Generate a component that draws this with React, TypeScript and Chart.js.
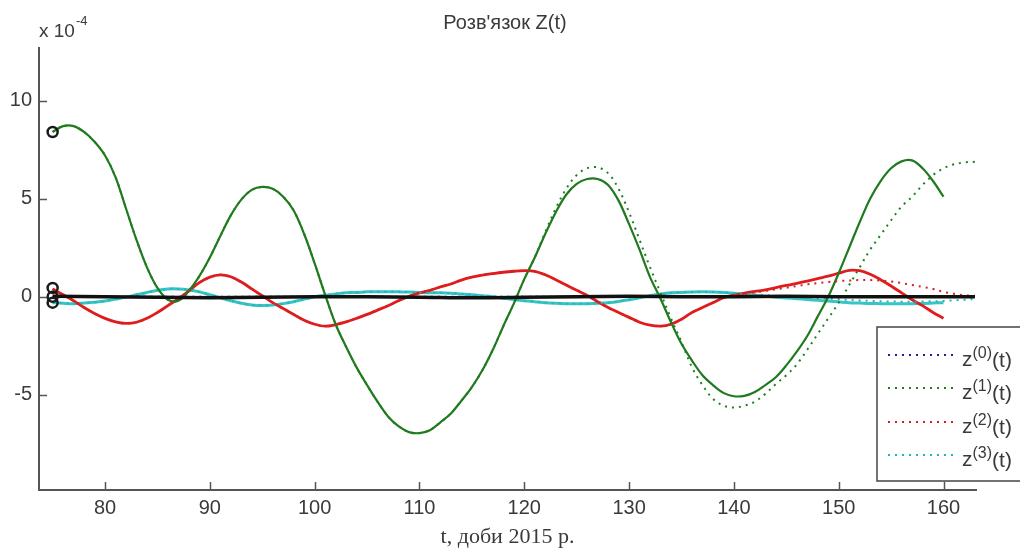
import React, { useEffect, useRef } from 'react';
import { Chart, registerables } from 'chart.js';

Chart.register(...registerables);

// ---------- data ----------
const DAYS = [
  75, 76, 77, 78, 79, 80, 81, 82, 83, 84,
  85, 86, 87, 88, 89, 90, 91, 92, 93, 94,
  95, 96, 97, 98, 99, 100, 101, 102, 103, 104,
  105, 106, 107, 108, 109, 110, 111, 112, 113, 114,
  115, 116, 117, 118, 119, 120, 121, 122, 123, 124,
  125, 126, 127, 128, 129, 130, 131, 132, 133, 134,
  135, 136, 137, 138, 139, 140, 141, 142, 143, 144,
  145, 146, 147, 148, 149, 150, 151, 152, 153, 154,
  155, 156, 157, 158, 159, 160,
];
const DAYS_EXTRA = [161, 162, 163];

// solution z1 (green, solid)
const Z1_SOLID = [
  8.4, 8.7, 8.7, 8.4, 7.9, 7.2, 6.1, 4.5, 2.9, 1.5,
  0.45, -0.15, -0.2, 0.3, 1.05, 2.0, 3.1, 4.15, 4.95, 5.45,
  5.6, 5.5, 5.1, 4.4, 3.2, 1.7, 0.1, -1.4, -2.55, -3.6,
  -4.5, -5.35, -6.1, -6.6, -6.9, -6.95, -6.8, -6.4, -5.95, -5.3,
  -4.6, -3.75, -2.7, -1.5, -0.35, 0.9, 2.0, 3.2, 4.3, 5.2,
  5.75, 6.0, 6.0, 5.7, 4.9, 3.7, 2.4, 1.0, -0.1, -1.3,
  -2.4, -3.25, -4.0, -4.5, -4.9, -5.07, -5.05, -4.85, -4.5, -4.1,
  -3.5, -2.8, -2.0, -1.0, 0.0, 1.2, 2.5, 3.8, 5.0, 5.9,
  6.55, 6.9, 6.95, 6.55, 5.9, 5.1,
];
// approximation z(1) (green, dotted) from day 121 to 163 (before that it equals the solution)
const Z1_DOTTED_TAIL = [
  2.0, 3.3, 4.5, 5.5,
  6.2, 6.55, 6.6, 6.3, 5.5, 4.3, 2.9, 1.5, 0.2, -1.1,
  -2.3, -3.6, -4.5, -5.2, -5.55, -5.65, -5.55, -5.35, -4.95, -4.45,
  -4.0, -3.45, -2.7, -1.9, -1.1, -0.3, 0.6, 1.5, 2.4, 3.15,
  3.9, 4.6, 5.1, 5.7, 6.2, 6.55, 6.75, 6.85, 6.88,
];

// solution z2 (red, solid)
const Z2_SOLID = [
  0.4, 0.1, -0.2, -0.55, -0.85, -1.1, -1.28, -1.36, -1.3, -1.1,
  -0.8, -0.45, -0.1, 0.3, 0.72, 1.0, 1.12, 1.02, 0.75, 0.4,
  0.05, -0.3, -0.6, -0.9, -1.2, -1.4, -1.5, -1.42, -1.28, -1.1,
  -0.9, -0.68, -0.46, -0.2, 0.02, 0.2, 0.33, 0.5, 0.65, 0.85,
  1.0, 1.1, 1.18, 1.25, 1.3, 1.33, 1.3, 1.12, 0.87, 0.6,
  0.33, 0.07, -0.25, -0.55, -0.8, -1.05, -1.3, -1.45, -1.5, -1.4,
  -1.15, -0.8, -0.55, -0.3, -0.05, 0.08, 0.18, 0.27, 0.35, 0.47,
  0.58, 0.68, 0.8, 0.93, 1.05, 1.2, 1.35, 1.33, 1.15, 0.87,
  0.55, 0.2, -0.15, -0.45, -0.8, -1.1,
];
// approximation z(2) (red, dotted) from day 140 to 163
const Z2_DOTTED_TAIL = [
  0.1, 0.15, 0.22, 0.3, 0.38, 0.46, 0.55, 0.63, 0.7, 0.75,
  0.8, 0.83, 0.85, 0.85, 0.83, 0.78, 0.7, 0.6, 0.5, 0.4,
  0.25, 0.15, 0.08, 0.05,
];

// solution z3 (cyan, solid)
const Z3_SOLID = [
  -0.3, -0.33, -0.35, -0.32, -0.28, -0.22, -0.12, -0.02, 0.1, 0.22,
  0.33, 0.4, 0.4, 0.35, 0.25, 0.1, -0.05, -0.2, -0.33, -0.42,
  -0.45, -0.42, -0.35, -0.25, -0.12, 0.0, 0.08, 0.14, 0.2, 0.22,
  0.25, 0.26, 0.26, 0.25, 0.24, 0.22, 0.2, 0.2, 0.18, 0.14,
  0.1, 0.05, 0.0, -0.08, -0.14, -0.2, -0.25, -0.3, -0.33, -0.35,
  -0.36, -0.35, -0.33, -0.3, -0.24, -0.15, -0.05, 0.05, 0.13, 0.2,
  0.22, 0.24, 0.25, 0.24, 0.22, 0.18, 0.13, 0.08, 0.03, -0.02,
  -0.06, -0.1, -0.14, -0.18, -0.22, -0.26, -0.3, -0.32, -0.34, -0.35,
  -0.36, -0.36, -0.35, -0.34, -0.32, -0.3,
];
// approximation z(3) (cyan, dotted) from day 141 to 163
const Z3_DOTTED_TAIL = [
  0.15, 0.12, 0.08, 0.05, 0.02, 0.0, -0.03, -0.06, -0.1, -0.13,
  -0.16, -0.19, -0.21, -0.23, -0.24, -0.25, -0.25, -0.24, -0.23, -0.21,
  -0.18, -0.15, -0.12,
];

// solution z0 (black, solid) and approximation z(0) (blue, dotted)
const Z0_DAYS = [75, 80, 85, 90, 95, 100, 105, 110, 115, 120, 125, 130, 135, 140, 145, 150, 155, 160, 163];
const Z0_SOLID = [0.02, 0.0, -0.03, -0.05, -0.03, 0.0, 0.0, -0.02, -0.05, -0.03, 0.0, 0.02, 0.0, 0.0, 0.02, 0.0, 0.0, 0.0, 0.0];
const Z0_DOTTED = [0.0, 0.0, 0.0, 0.0, 0.0, 0.0, 0.0, 0.0, 0.0, 0.0, 0.0, 0.0, 0.0, 0.0, 0.0, 0.0, 0.0, 0.0, 0.0];

// initial values (circles)
const START_DAY = [75, 75, 75, 75];
const START_VALUES = [8.4, 0.45, -0.3, 0.0];

const X_TICKS_STEP = 10;
const Y_TICKS_STEP = 5;
const LEGEND_LABELS = ['0', '1', '2', '3'];

const TITLE = "Розв'язок Z(t)";
const X_TITLE = 't, доби 2015 р.';

// ---------- styles ----------
const C_BLACK = '#111111';
const C_GREEN = '#1f7a1f';
const C_RED = '#e01c1c';
const C_CYAN = '#38c4c4';
const C_BLUE_DOT = '#1c1ca8';
const C_GREEN_DOT = '#1f7f1f';
const C_RED_DOT = '#d42020';
const C_CYAN_DOT = '#22b5b5';
const AXIS = '#555555';
const TXT = '#3a3a3a';
const SANS = "'Liberation Sans', Arial, sans-serif";
const SERIF = "'Liberation Serif', 'Times New Roman', serif";
const DOT_DASH = [2, 5];

const pts = (days: number[], vals: number[]) => vals.map((v, i) => ({ x: days[i], y: v }));
const DAYS_LONG = DAYS.concat(DAYS_EXTRA);
const Z1_DOTTED = Z1_SOLID.slice(0, 46).concat(Z1_DOTTED_TAIL);
const Z2_DOTTED = Z2_SOLID.slice(0, 65).concat(Z2_DOTTED_TAIL);
const Z3_DOTTED = Z3_SOLID.slice(0, 66).concat(Z3_DOTTED_TAIL);

const LEGEND_COLORS = [C_BLUE_DOT, C_GREEN_DOT, C_RED_DOT, C_CYAN_DOT];

const decor = {
  id: 'decor',
  afterDraw(chart: any) {
    const { ctx, chartArea, scales } = chart;
    const xs = scales.x;
    const ys = scales.y;
    ctx.save();

    // title
    ctx.fillStyle = TXT;
    ctx.font = `20px ${SANS}`;
    ctx.textAlign = 'center';
    ctx.textBaseline = 'alphabetic';
    ctx.fillText(TITLE, 505, 29);

    // exponent
    ctx.textAlign = 'left';
    ctx.font = `19px ${SANS}`;
    ctx.fillText('x 10', 39, 37);
    const w = ctx.measureText('x 10').width;
    ctx.font = `13px ${SANS}`;
    ctx.fillText('-4', 39 + w + 1, 25);

    // legend
    const lx = 877, ly = 327, lw = 200, lh = 154;
    ctx.fillStyle = '#ffffff';
    ctx.fillRect(lx, ly, lw, lh);
    ctx.strokeStyle = '#444444';
    ctx.lineWidth = 1.5;
    ctx.strokeRect(lx, ly, lw, lh);
    const rows = [355, 388, 422, 455];
    rows.forEach((ry, i) => {
      ctx.strokeStyle = LEGEND_COLORS[i];
      ctx.lineWidth = 2;
      ctx.setLineDash(DOT_DASH);
      ctx.beginPath();
      ctx.moveTo(888, ry);
      ctx.lineTo(958, ry);
      ctx.stroke();
      ctx.setLineDash([]);
      ctx.fillStyle = TXT;
      ctx.textAlign = 'left';
      ctx.font = `21px ${SANS}`;
      let x = 962;
      ctx.fillText('z', x, ry + 11);
      x += ctx.measureText('z').width;
      ctx.font = `16px ${SANS}`;
      const sup = `(${LEGEND_LABELS[i]})`;
      ctx.fillText(sup, x, ry + 3);
      x += ctx.measureText(sup).width;
      ctx.font = `21px ${SANS}`;
      ctx.fillText('(t)', x, ry + 12);
    });

    // inward tick marks
    ctx.strokeStyle = AXIS;
    ctx.lineWidth = 1.5;
    ctx.setLineDash([]);
    const TL = 8;
    xs.ticks.forEach((t: any) => {
      const px = Math.round(xs.getPixelForValue(t.value)) + 0.5;
      ctx.beginPath();
      ctx.moveTo(px, chartArea.bottom);
      ctx.lineTo(px, chartArea.bottom - TL);
      ctx.stroke();
    });
    ys.ticks.forEach((t: any) => {
      const py = Math.round(ys.getPixelForValue(t.value)) + 0.5;
      ctx.beginPath();
      ctx.moveTo(chartArea.left, py);
      ctx.lineTo(chartArea.left + TL, py);
      ctx.stroke();
    });
    ctx.restore();
  },
};

export default function App() {
  const ref = useRef<HTMLCanvasElement>(null);
  useEffect(() => {
    const solid = (label: string, data: any[], color: string, width: number, order: number) => ({
      label, data, borderColor: color, backgroundColor: color, borderWidth: width,
      pointRadius: 0, tension: 0.35, fill: false, order,
    });
    const dotted = (label: string, data: any[], color: string, order: number) => ({
      label, data, borderColor: color, backgroundColor: color, borderWidth: 2,
      borderDash: DOT_DASH, pointRadius: 0, tension: 0.35, fill: false, order,
    });
    const chart = new Chart(ref.current as HTMLCanvasElement, {
      type: 'line',
      data: {
        datasets: [
          solid('z3', pts(DAYS, Z3_SOLID), C_CYAN, 3, 8),
          solid('z2', pts(DAYS, Z2_SOLID), C_RED, 2.8, 7),
          solid('z1', pts(DAYS, Z1_SOLID), C_GREEN, 2.2, 6),
          dotted('z(3)', pts(DAYS_LONG, Z3_DOTTED), C_CYAN_DOT, 5),
          dotted('z(2)', pts(DAYS_LONG, Z2_DOTTED), C_RED_DOT, 4),
          dotted('z(1)', pts(DAYS_LONG, Z1_DOTTED), C_GREEN_DOT, 3),
          dotted('z(0)', pts(Z0_DAYS, Z0_DOTTED), C_BLUE_DOT, 2),
          solid('z0', pts(Z0_DAYS, Z0_SOLID), C_BLACK, 3.5, 1),
          {
            label: 'start', data: pts(START_DAY, START_VALUES), showLine: false,
            pointRadius: 5, pointBorderWidth: 2.5, pointBorderColor: '#1a1a1a',
            pointBackgroundColor: 'rgba(0,0,0,0)', borderColor: '#1a1a1a', order: 0,
          } as any,
        ],
      },
      options: {
        animation: false,
        responsive: false,
        devicePixelRatio: 1,
        layout: { padding: { left: 0, top: 48, right: 44, bottom: 0 } },
        plugins: { legend: { display: false }, tooltip: { enabled: false }, title: { display: false } },
        scales: {
          x: {
            type: 'linear',
            min: 73.7,
            max: 163.1,
            afterFit: (s: any) => { s.height = 64; },
            grid: { display: false, drawTicks: false },
            border: { display: true, color: AXIS, width: 2 },
            ticks: { stepSize: X_TICKS_STEP, includeBounds: false, padding: 6, color: TXT, font: { family: SANS, size: 20 }, maxRotation: 0 },
            title: { display: true, text: X_TITLE, color: TXT, font: { family: SERIF, size: 22 }, padding: { top: 0, bottom: 4 } },
          },
          y: {
            type: 'linear',
            min: -9.85,
            max: 12.68,
            afterFit: (s: any) => { s.width = 39; },
            grid: { display: false, drawTicks: false },
            border: { display: true, color: AXIS, width: 2 },
            ticks: { stepSize: Y_TICKS_STEP, includeBounds: false, padding: 7, color: TXT, font: { family: SANS, size: 20 } },
          },
        },
      } as any,
      plugins: [decor],
    });
    return () => chart.destroy();
  }, []);
  return (
    <div style={{ position: 'fixed', left: 0, top: 0, width: 1020, height: 554, background: '#ffffff' }}>
      <canvas ref={ref} width={1020} height={554} style={{ display: 'block' }} />
    </div>
  );
}
